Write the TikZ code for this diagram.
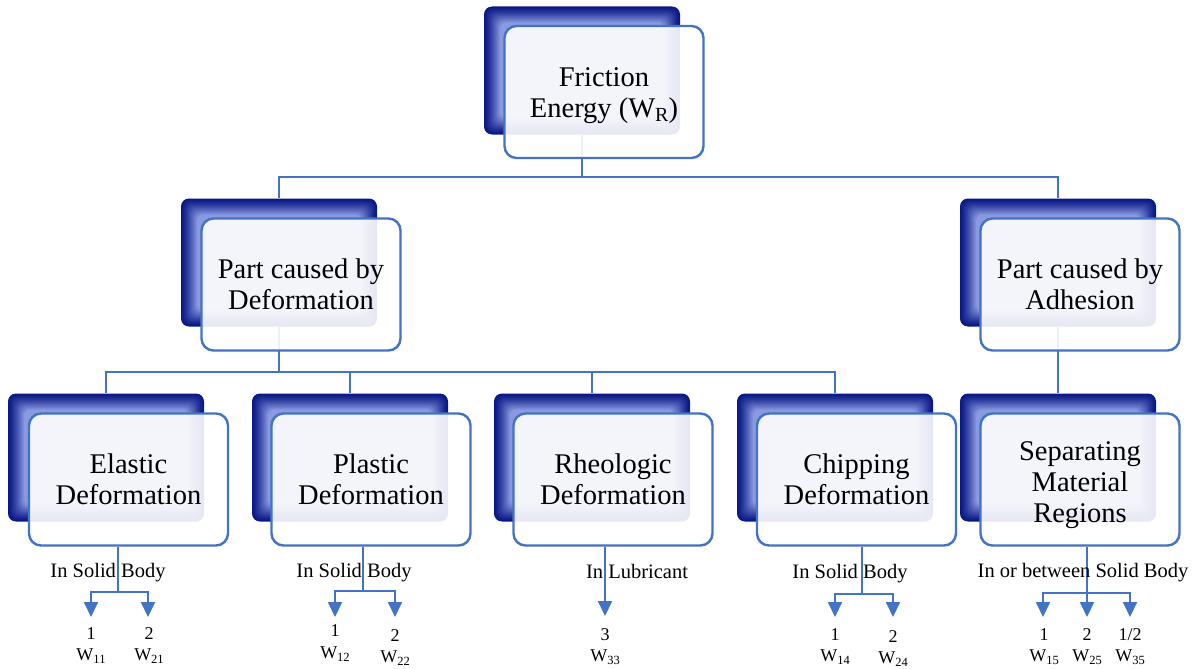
\documentclass[tikz,border=0pt]{standalone}
\usepackage{fontspec}
\setmainfont{Liberation Serif}
\usetikzlibrary{arrows.meta}
\definecolor{bdark}{HTML}{0A1886}
\definecolor{blight}{HTML}{8A9AE0}
\definecolor{lineblue}{HTML}{4472C4}
\newcommand\boxfnt{\fontsize{28.5pt}{31pt}\selectfont}
\newcommand\lblfnt{\fontsize{20.5pt}{24pt}\selectfont}
\newcommand\numfnt{\fontsize{18pt}{22pt}\selectfont}
\newcommand\Wsub[1]{W\raisebox{-3pt}{\fontsize{12.5pt}{12.5pt}\selectfont #1}}
\tikzset{
  backbox/.style={rectangle, rounded corners=8pt, minimum width=196pt, minimum height=128pt,
    inner sep=0pt, fill=bdark, path picture={
      \foreach \i in {1,...,16}{
        \pgfmathtruncatemacro\bvt{100*(\i/16)^1.3}
        \fill[blight!\bvt!bdark, rounded corners=7pt]
          ([xshift=\i pt, yshift=\i pt]path picture bounding box.south west) rectangle
          ([xshift=-\i pt, yshift=-\i pt]path picture bounding box.north east);
      }}},
  frontbox/.style={rectangle, rounded corners=12pt, minimum width=199pt, minimum height=132pt,
    inner sep=0pt, draw=lineblue, line width=2.4pt, fill=white, fill opacity=0.9,
    text opacity=1, align=center, font=\boxfnt},
  boxtxt/.style={align=center, font=\boxfnt, inner sep=0pt},
  conn/.style={draw=lineblue, line width=2pt},
  arr/.style={conn, -{Triangle[width=14pt,length=15pt]}},
  lbl/.style={font=\lblfnt, anchor=base, inner sep=0pt},
  num/.style={font=\numfnt, anchor=base, inner sep=0pt}
}
\begin{document}
\begin{tikzpicture}[x=1pt,y=-1pt]
\fill[white] (0,0) rectangle (1199,669);
\useasboundingbox (0,0) rectangle (1199,669);

% back boxes
\node[backbox] (bT) at (582,70.5) {};
\node[backbox] (bL) at (279,262.5) {};
\node[backbox] (bA) at (1058,262.5) {};
\node[backbox] (bE) at (106,457.5) {};
\node[backbox] (bP) at (350,457.5) {};
\node[backbox] (bR) at (592,457.5) {};
\node[backbox] (bK) at (835,457.5) {};
\node[backbox] (bS) at (1058,457.5) {};

% connectors between levels
\coordinate (j0) at (582,177);
\coordinate (j1) at (279,372);
\draw[conn] (bT.south) -- (j0);
\draw[conn] (bL.north) |- (j0) -| (bA.north);
\draw[conn] (bL.south) -- (j1);
\draw[conn] (bE.north) |- (j1) -| (bK.north);
\draw[conn] (bP.north) -- (bP.north |- j1);
\draw[conn] (bR.north) -- (bR.north |- j1);
\draw[conn] (bA.south) -- (bS.north);

% front boxes
\node[frontbox] (fT) at (604,92) {};
\node[boxtxt] (tT) at (604,96) {Friction\\Energy (W\raisebox{-4pt}{\fontsize{20pt}{20pt}\selectfont R})};
\node[frontbox] (fL) at (301,284.5) {Part caused by\\Deformation};
\node[frontbox] (fA) at (1080,284.5) {Part caused by\\Adhesion};
\node[frontbox] (fE) at (128.5,479.5) {Elastic\\Deformation};
\node[frontbox] (fP) at (371,479.5) {Plastic\\Deformation};
\node[frontbox] (fR) at (613,479.5) {Rheologic\\Deformation};
\node[frontbox] (fK) at (856.5,479.5) {Chipping\\Deformation};
\node[frontbox] (fS) at (1080,479.5) {};
\node[boxtxt] (tS) at (1080,485) {Separating\\Material\\Regions};

% bottom connectors
\coordinate (kE) at (118,592);
\coordinate (aE1) at (91,617);
\coordinate (aE2) at (148,617);
\draw[conn] (kE |- fE.south) -- (kE);
\draw[arr] (kE) -| (aE1);
\draw[arr] (kE) -| (aE2);

\coordinate (kP) at (363,591);
\coordinate (aP1) at (335,617);
\coordinate (aP2) at (395,617);
\draw[conn] (kP |- fP.south) -- (kP);
\draw[arr] (kP) -| (aP1);
\draw[arr] (kP) -| (aP2);

\coordinate (aR) at (605,616);
\draw[arr] (aR |- fR.south) -- (aR);

\coordinate (kK) at (862,594);
\coordinate (aK1) at (835,617);
\coordinate (aK2) at (893,617);
\draw[conn] (kK |- fK.south) -- (kK);
\draw[arr] (kK) -| (aK1);
\draw[arr] (kK) -| (aK2);

\coordinate (kS) at (1087,593);
\coordinate (aS1) at (1043,617);
\coordinate (aS2) at (1087,617);
\coordinate (aS3) at (1130,617);
\draw[conn] (kS |- fS.south) -- (kS);
\draw[arr] (kS) -| (aS1);
\draw[arr] (kS) -- (aS2);
\draw[arr] (kS) -| (aS3);

% branch labels
\node[lbl] (lE) at (108,577) {In Solid Body};
\node[lbl] (lP) at (354,577) {In Solid Body};
\node[lbl] (lR) at (637,578) {In Lubricant};
\node[lbl] (lK) at (850,578) {In Solid Body};
\node[lbl] (lS) at (1083,577) {In or between Solid Body};

% end labels
\node[num] (nE1) at (91,639) {1};
\node[num] (wE1) at (91,660) {\Wsub{11}};
\node[num] (nE2) at (149,639) {2};
\node[num] (wE2) at (149,660) {\Wsub{21}};
\node[num] (nP1) at (335,636) {1};
\node[num] (wP1) at (335,658) {\Wsub{12}};
\node[num] (nP2) at (395,641) {2};
\node[num] (wP2) at (395,662) {\Wsub{22}};
\node[num] (nR) at (605,640) {3};
\node[num] (wR) at (605,661) {\Wsub{33}};
\node[num] (nK1) at (835,640) {1};
\node[num] (wK1) at (835,661) {\Wsub{14}};
\node[num] (nK2) at (893,642) {2};
\node[num] (wK2) at (893,663) {\Wsub{24}};
\node[num] (nS1) at (1044,640) {1};
\node[num] (wS1) at (1044,661) {\Wsub{15}};
\node[num] (nS2) at (1087,640) {2};
\node[num] (wS2) at (1087,661) {\Wsub{25}};
\node[num] (nS3) at (1130,640) {1/2};
\node[num] (wS3) at (1130,661) {\Wsub{35}};
\end{tikzpicture}
\end{document}
